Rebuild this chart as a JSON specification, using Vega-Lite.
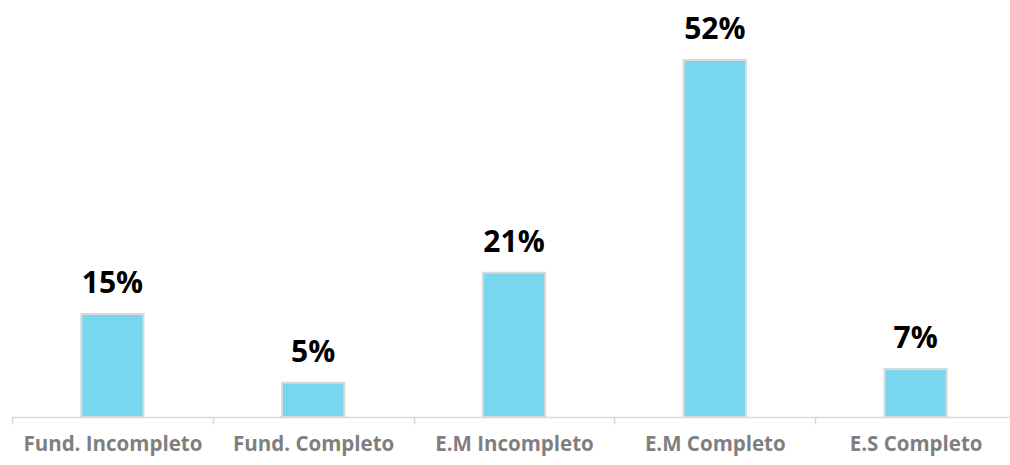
{
  "$schema": "https://vega.github.io/schema/vega-lite/v6.json",
  "autosize": "none",
  "width": 1004,
  "height": 417,
  "padding": {"left": 12, "top": 0, "right": 0, "bottom": 48},
  "background": "white",
  "config": {"view": {"stroke": null}},
  "data": {
    "values": [
      {"nivel": "Fund. Incompleto", "pct": 0.15},
      {"nivel": "Fund. Completo", "pct": 0.05},
      {"nivel": "E.M Incompleto", "pct": 0.21},
      {"nivel": "E.M Completo", "pct": 0.52},
      {"nivel": "E.S Completo", "pct": 0.07}
    ]
  },
  "encoding": {
    "x": {
      "field": "nivel",
      "type": "nominal",
      "sort": null,
      "scale": {"paddingInner": 0, "paddingOuter": 0},
      "axis": {
        "title": null,
        "labelAngle": 0,
        "tickBand": "extent",
        "tickSize": 7,
        "tickColor": "#D9D9D9",
        "tickWidth": 1.5,
        "domainColor": "#D9D9D9",
        "domainWidth": 1.5,
        "labelFont": "Open Sans",
        "labelFontWeight": "bold",
        "labelFontSize": 20.5,
        "labelColor": "#7F7F7F",
        "labelPadding": 10,
        "labelOverlap": false
      }
    },
    "y": {
      "field": "pct",
      "type": "quantitative",
      "scale": {"domain": [0, 0.6074], "nice": false},
      "axis": null
    }
  },
  "layer": [
    {
      "mark": {"type": "bar", "width": {"band": 0.31}, "color": "#78D7EF", "stroke": "#D9D9D9", "strokeWidth": 2}
    },
    {
      "mark": {"type": "text", "dy": -21, "baseline": "alphabetic", "font": "Open Sans", "fontWeight": "bold", "fontSize": 30, "color": "#000000"},
      "encoding": {"text": {"field": "pct", "type": "quantitative", "format": ".0%"}}
    }
  ]
}
